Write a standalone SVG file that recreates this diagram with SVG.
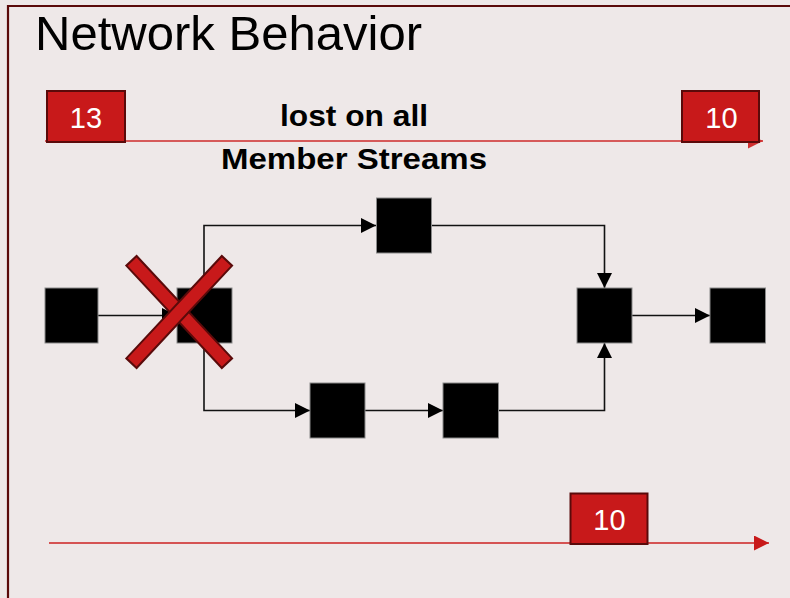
<svg xmlns="http://www.w3.org/2000/svg" width="790" height="598" viewBox="0 0 790 598">
<defs>
<style>
.node{fill:#000;stroke:#8a8a8a;stroke-width:1}
.conn{fill:none;stroke:#111;stroke-width:1.6}
.pkt{fill:#c8191a;stroke:#5a0a0a;stroke-width:2}
.pkttxt{font-family:"Liberation Sans",Arial,sans-serif;font-size:29px;fill:#fff;text-anchor:middle}
.lbl{font-family:"Liberation Sans",Arial,sans-serif;font-size:29px;font-weight:bold;fill:#000;text-anchor:middle}
.xbar{fill:#c8191a;stroke:#5a0a0a;stroke-width:2}
</style>
<marker id="ah" viewBox="0 0 10 10" refX="10" refY="5" markerWidth="15" markerHeight="15" markerUnits="userSpaceOnUse" orient="auto">
<path d="M0,0 L10,5 L0,10 Z" fill="#000"/>
</marker>
<marker id="ahr" viewBox="0 0 10 10" refX="10" refY="5" markerWidth="16" markerHeight="15" markerUnits="userSpaceOnUse" orient="auto">
<path d="M0,0 L10,5 L0,10 Z" fill="#c8191a"/>
</marker>
<marker id="ahr2" viewBox="0 0 10 10" refX="10" refY="5" markerWidth="15" markerHeight="15" markerUnits="userSpaceOnUse" orient="auto">
<path d="M0,0 L10,5 L0,10 Z" fill="#cf2f2f"/>
</marker>
</defs>
<rect x="0" y="0" width="790" height="598" fill="#eee8e8"/>
<path d="M8,598 L8,6 L790,6" fill="none" stroke="#5a0a0a" stroke-width="2.2"/>
<text x="35" y="50" font-family="'Liberation Sans',Arial,sans-serif" font-size="48" fill="#000" textLength="387" lengthAdjust="spacingAndGlyphs">Network Behavior</text>

<g id="streams">
<line x1="45" y1="141" x2="763" y2="141" stroke="#d65a5a" stroke-width="2" marker-end="url(#ahr2)"/>
<line x1="49" y1="543" x2="769" y2="543" stroke="#cc2222" stroke-width="1.6" marker-end="url(#ahr)"/>
</g>

<g id="pkt13"><rect class="pkt" x="47" y="91" width="78" height="51"/><text class="pkttxt" x="86" y="128">13</text></g>
<g id="pkt10top"><rect class="pkt" x="682" y="91" width="77" height="51"/><text class="pkttxt" x="721.5" y="128">10</text></g>
<g id="pkt10bottom"><rect class="pkt" x="570.5" y="493.5" width="77" height="50.5"/><text class="pkttxt" x="609.5" y="530">10</text></g>

<g id="label">
<text class="lbl" x="354" y="126" textLength="148" lengthAdjust="spacingAndGlyphs">lost on all</text>
<text class="lbl" x="354" y="169" textLength="266" lengthAdjust="spacingAndGlyphs">Member Streams</text>
</g>

<g id="connectors">
<line class="conn" x1="98" y1="315.5" x2="177" y2="315.5" marker-end="url(#ah)"/>
<polyline class="conn" points="204,315.5 204,225.5 376,225.5" marker-end="url(#ah)"/>
<polyline class="conn" points="204,315.5 204,410.5 310,410.5" marker-end="url(#ah)"/>
<line class="conn" x1="365" y1="410.5" x2="443" y2="410.5" marker-end="url(#ah)"/>
<polyline class="conn" points="432,225.5 604.5,225.5 604.5,288" marker-end="url(#ah)"/>
<polyline class="conn" points="498.5,410.5 604.5,410.5 604.5,343" marker-end="url(#ah)"/>
<line class="conn" x1="632" y1="315.5" x2="710" y2="315.5" marker-end="url(#ah)"/>
</g>

<g id="n1"><rect class="node" x="45" y="288" width="53" height="55"/></g>
<g id="n2"><rect class="node" x="177" y="288" width="55" height="55"/></g>
<g id="n3"><rect class="node" x="376.5" y="198" width="55" height="55"/></g>
<g id="n4"><rect class="node" x="577" y="288" width="55" height="55"/></g>
<g id="n5"><rect class="node" x="710" y="288" width="55.5" height="55"/></g>
<g id="n6"><rect class="node" x="310" y="383" width="55" height="55"/></g>
<g id="n7"><rect class="node" x="443" y="383" width="55.5" height="55"/></g>

<g id="cross">
<rect class="xbar" x="109.2" y="305" width="140" height="14" transform="rotate(47 179.2 312)"/>
<rect class="xbar" x="109.2" y="305" width="140" height="14" transform="rotate(-47 179.2 312)"/>
</g>
</svg>
